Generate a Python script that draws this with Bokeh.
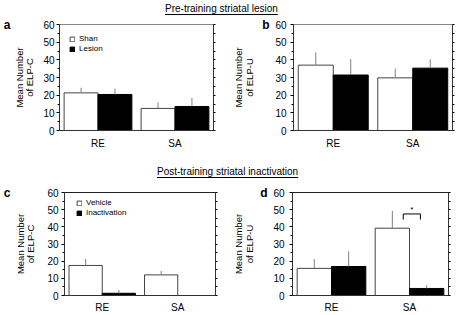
from bokeh.plotting import figure
from bokeh.models import (ColumnDataSource, FactorRange, Range1d, LinearAxis,
                          FixedTicker, Legend, LegendItem, Div, AllLabels)
from bokeh.transform import dodge
from bokeh.layouts import column, row
from bokeh.embed import file_html
from bokeh.resources import INLINE

FONT = "Liberation Sans"

cats = ["RE", "SA"]
y_ticks = [0, 10, 20, 30, 40, 50, 60]
y_minor = [5, 15, 25, 35, 45, 55]
right_ticks = [0, 5, 10, 15, 20, 25, 30, 35, 40, 45, 50, 55, 60]

title_top = "Pre-training striatal lesion"
title_bottom = "Post-training striatal inactivation"
ylabel_c = "Mean Number\nof ELP-C"
ylabel_u = "Mean Number\nof ELP-U"

legend_top = ["Shan", "Lesion"]
legend_bottom = ["Vehicle", "Inactivation"]

a_sham = [21.3, 12.5]
a_sham_err = [2.9, 3.4]
a_lesion = [20.4, 13.6]
a_lesion_err = [3.3, 4.9]

b_sham = [37.0, 29.8]
b_sham_err = [7.2, 5.2]
b_lesion = [31.4, 35.3]
b_lesion_err = [9.0, 5.0]

c_vehicle = [17.5, 12.0]
c_vehicle_err = [3.7, 2.3]
c_inact = [1.3, 0.0]
c_inact_err = [1.9, 0.0]

d_vehicle = [15.8, 39.2]
d_vehicle_err = [5.3, 10.1]
d_inact = [16.9, 4.1]
d_inact_err = [8.8, 1.9]

# significance bracket in panel d (SA: vehicle vs inactivation)
sig_cat = ["SA"]
sig_top = [47.5]
sig_leg = [44.2]
sig_star = [50.3]

BW = 0.44


def panel(letter, ylabel, white, white_err, black, black_err, names,
          width, height, left, right, top, bottom, outline,
          tick_standoff, label_standoff, letter_standoff, letter_between,
          x_standoff, legend_loc=None):
    p = figure(width=width, height=height, x_range=FactorRange(*cats),
               y_range=Range1d(0, 60), toolbar_location=None,
               output_backend="svg", min_border_left=left,
               min_border_right=right, min_border_top=top,
               min_border_bottom=bottom)
    p.grid.visible = False
    p.outline_line_color = outline
    p.outline_line_width = 1

    src = ColumnDataSource(dict(
        cats=cats, w=white, wt=[m + e for m, e in zip(white, white_err)],
        b=black, bt=[m + e for m, e in zip(black, black_err)]))

    rw = p.vbar(x=dodge("cats", -BW / 2, range=p.x_range), top="w",
                width=BW, source=src, fill_color="white",
                line_color="#444444", line_width=1)
    rb = p.vbar(x=dodge("cats", BW / 2, range=p.x_range), top="b",
                width=BW, source=src, fill_color="black",
                line_color="black", line_width=1)
    p.segment(x0=dodge("cats", -BW / 2, range=p.x_range), y0="w",
              x1=dodge("cats", -BW / 2, range=p.x_range), y1="wt",
              source=src, line_color="#808080", line_width=1)
    p.segment(x0=dodge("cats", BW / 2, range=p.x_range), y0="b",
              x1=dodge("cats", BW / 2, range=p.x_range), y1="bt",
              source=src, line_color="#808080", line_width=1)

    def style_text_axis(ax):
        ax.major_label_text_font = FONT
        ax.major_label_text_color = "black"
        ax.axis_label_text_font = FONT
        ax.axis_label_text_font_size = "9.5px"
        ax.axis_label_text_font_style = "normal"
        ax.axis_label_text_color = "black"
        ax.axis_label_text_line_height = 0.95

    ya = p.yaxis[0]
    ya.ticker = FixedTicker(ticks=y_ticks, minor_ticks=y_minor)
    ya.major_label_policy = AllLabels()
    ya.major_tick_out = 3
    ya.major_tick_in = 0
    ya.minor_tick_out = 2
    ya.minor_tick_in = 0
    ya.major_label_standoff = tick_standoff
    style_text_axis(ya)
    ya.major_label_text_font_size = "10px"
    ya.axis_line_color = "#333333"

    def letter_axis():
        la = LinearAxis(ticker=FixedTicker(ticks=[60], minor_ticks=[]),
                        major_label_overrides={60: letter},
                        major_tick_out=0, major_tick_in=0,
                        axis_line_color=None,
                        major_label_standoff=letter_standoff)
        style_text_axis(la)
        la.major_label_text_font_size = "12px"
        la.major_label_text_font_style = "bold"
        return la

    if letter_between:
        p.add_layout(letter_axis(), "left")
        lab = LinearAxis(ticker=FixedTicker(ticks=[], minor_ticks=[]),
                         major_tick_out=0, major_tick_in=0,
                         axis_line_color=None, axis_label=ylabel,
                         axis_label_standoff=label_standoff)
        style_text_axis(lab)
        p.add_layout(lab, "left")
    else:
        ya.axis_label = ylabel
        ya.axis_label_standoff = label_standoff
        p.add_layout(letter_axis(), "left")

    xa = p.xaxis[0]
    xa.major_tick_out = 0
    xa.major_tick_in = 0
    xa.major_label_standoff = x_standoff
    xa.major_label_text_font = FONT
    xa.major_label_text_font_size = "10px"
    xa.major_label_text_color = "black"
    xa.axis_line_color = "#333333"

    ra = LinearAxis(ticker=FixedTicker(ticks=right_ticks, minor_ticks=[]),
                    major_label_overrides={t: "" for t in right_ticks},
                    major_tick_out=2, major_tick_in=0,
                    major_label_standoff=0, axis_line_color="#333333")
    p.add_layout(ra, "right")

    if names is not None:
        leg = Legend(items=[LegendItem(label=names[0], renderers=[rw]),
                            LegendItem(label=names[1], renderers=[rb])],
                     location=legend_loc, margin=0, padding=0,
                     spacing=1, glyph_width=6, glyph_height=6,
                     label_height=6, label_standoff=4,
                     label_text_font=FONT, label_text_font_size="8px",
                     label_text_color="black",
                     border_line_color=None, background_fill_alpha=0)
        p.add_layout(leg)
    return p


fa = panel("a", ylabel_c, a_sham, a_sham_err, a_lesion, a_lesion_err,
           legend_top, 230, 135, 48, 17, 8, 20, "#888888",
           2, 5, 0, False, 7, legend_loc=(10, 77))
fb = panel("b", ylabel_u, b_sham, b_sham_err, b_lesion, b_lesion_err,
           None, 226, 135, 58, 4, 8, 20, "#888888",
           4, 5, 3, True, 7)
fc = panel("c", ylabel_c, c_vehicle, c_vehicle_err, c_inact, c_inact_err,
           legend_bottom, 230, 133, 54, 15, 10, 18, "#222222",
           3, 8, 1, False, 6, legend_loc=(12, 78))
fd = panel("d", ylabel_u, d_vehicle, d_vehicle_err, d_inact, d_inact_err,
           None, 226, 133, 58, 8, 8, 18, "#222222",
           5, 3, 3, True, 6)

sig = ColumnDataSource(dict(cat=sig_cat, top=sig_top, leg=sig_leg,
                            star=sig_star, s=["*"]))
fd.segment(x0=dodge("cat", -0.08, range=fd.x_range), y0="top",
           x1=dodge("cat", 0.14, range=fd.x_range), y1="top",
           source=sig, line_color="black", line_width=1)
fd.segment(x0=dodge("cat", -0.08, range=fd.x_range), y0="top",
           x1=dodge("cat", -0.08, range=fd.x_range), y1="leg",
           source=sig, line_color="black", line_width=1)
fd.segment(x0=dodge("cat", 0.14, range=fd.x_range), y0="top",
           x1=dodge("cat", 0.14, range=fd.x_range), y1="leg",
           source=sig, line_color="black", line_width=1)
fd.text(x=dodge("cat", 0.03, range=fd.x_range), y="star", text="s",
        source=sig, text_align="center", text_baseline="middle",
        text_font_size="8px", text_color="black")


def title_div(txt, h, pad_left, pad_top):
    html = ('<div style="margin-left:%dpx;padding-top:%dpx;'
            'font-family:\'Liberation Sans\';font-size:10px;line-height:12px;'
            'text-decoration:underline;text-underline-offset:2px;'
            'white-space:nowrap;color:black;">%s</div>') % (pad_left, pad_top, txt)
    return Div(text=html, width=456, height=h, margin=(0, 0, 0, 0))


t1 = title_div(title_top, 16, 165, 3)
t2 = title_div(title_bottom, 31, 157, 15)

layout = column(t1, row(fa, fb), t2, row(fc, fd))

open("out.html", "w").write(file_html(layout, INLINE))
